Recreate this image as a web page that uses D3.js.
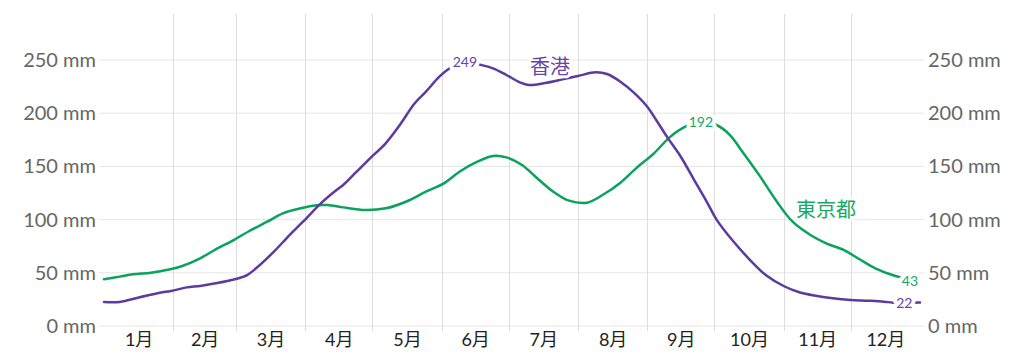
<!DOCTYPE html>
<html>
<head>
<meta charset="utf-8">
<script src="https://cdn.jsdelivr.net/npm/d3@7"></script>
<style>
  html, body { margin: 0; padding: 0; background: #fff; }
  svg { display: block; font-family: Lato, "Noto Sans", "Noto Sans CJK JP", sans-serif; }
</style>
</head>
<body>
<svg id="chart" width="1024" height="356"></svg>
<script>
// ---- data ----
const monthLabels = ["1月","2月","3月","4月","5月","6月","7月","8月","9月","10月","11月","12月"];
const monthStartDays = [0,31,59,90,120,151,181,212,243,273,304,334,365];
const yTicks = [0,50,100,150,200,250];

const hkName = "香港";
const hkDay  = [0,7,16,25,30,37,43,50,59,64,68,76,83,89,97,104,107,113,119,126,132,139,144,150,154,161,167,174,180,186,190,198,205,212,220,225,231,237,243,247,252,258,264,270,274,281,289,296,304,311,319,326,334,341,349,353,365];
const hkRain = [22.6,22.6,27,31.3,32.9,36.3,37.6,40.1,44.2,47.9,54.2,69.9,85.5,98,115.3,127.8,132.5,145,157.6,171.7,188,209.3,220.2,234.3,241.3,249,246.2,242.2,235.9,229,226.5,228.7,231.8,235,238.4,236.8,229.6,219.3,206.1,193.6,177.3,159.1,137.2,115.3,100,80.8,62,47.9,37.6,31.7,28.2,26,24.4,23.8,22.9,21.9,22];

const tkName = "東京都";
const tkDay  = [0,7,13,21,28,35,43,50,58,65,73,80,88,95,100,107,117,126,135,144,152,159,167,174,180,187,193,201,208,216,223,231,238,246,253,260,267,274,280,285,293,301,308,316,323,331,338,345,354,360,365];
const tkRain = [43.9,46.4,48.6,50.1,52.6,56.4,63.6,72.1,80.8,89.3,98,105.9,110.6,113.4,113.7,111.5,109,110.6,116.8,126.2,134.1,145,154.4,159.8,158.5,151.3,140.3,126.2,117.8,115.9,123.1,134.7,148.2,162.3,177.3,187.3,192,188.9,179.5,165.4,142,116.8,98,85.5,77.7,71.4,62.7,54.2,47,44,43];

// ---- layout ----
const svg = d3.select("#chart");
const purple = "#5e3a9e", purpleText = "#6a42a8";
const green = "#0aa35c", greenText = "#16a864";
const x = d3.scaleLinear().domain([0, 365]).range([104, 920]);
const y = d3.scaleLinear().domain([0, 250]).range([326, 60]);

// horizontal gridlines
svg.append("g").selectAll("line").data(yTicks).join("line")
  .attr("x1", 99).attr("x2", 924)
  .attr("y1", d => y(d)).attr("y2", d => y(d))
  .attr("stroke", "#e6e6e6").attr("stroke-width", 1);

// vertical gridlines (month boundaries)
svg.append("g").selectAll("line").data(monthStartDays.slice(1, 12)).join("line")
  .attr("x1", d => Math.round(x(d)) + 0.5).attr("x2", d => Math.round(x(d)) + 0.5)
  .attr("y1", 14).attr("y2", 331)
  .attr("stroke", "#dddddd").attr("stroke-width", 1);

// y axes
const fmt = d => d + " mm";
const left = svg.append("g").attr("transform", "translate(96,0)")
  .call(d3.axisLeft(y).tickValues(yTicks).tickFormat(fmt).tickSize(0).tickPadding(0));
const right = svg.append("g").attr("transform", "translate(928,0)")
  .call(d3.axisRight(y).tickValues(yTicks).tickFormat(fmt).tickSize(0).tickPadding(0));
[left, right].forEach(g => {
  g.select(".domain").remove();
  g.selectAll("text").attr("font-size", 20).attr("fill", "#666").attr("font-family", "Lato, 'Noto Sans', sans-serif");
});

// x axis month labels (mid-month)
const mids = monthLabels.map((m, i) => (monthStartDays[i] + monthStartDays[i + 1]) / 2);
const xa = svg.append("g").attr("transform", "translate(0,333)")
  .call(d3.axisBottom(x).tickValues(mids).tickFormat((d, i) => monthLabels[i]).tickSize(0).tickPadding(0));
xa.select(".domain").remove();
xa.selectAll("text").attr("font-size", 18).attr("fill", "#222").attr("dy", "0.71em")
  .attr("font-family", "Lato, 'Noto Sans CJK JP', sans-serif");

// lines
const line = d3.line().curve(d3.curveCatmullRom.alpha(0.5));
function series(days, vals, color) {
  svg.append("path")
    .attr("d", line(days.map((d, i) => [x(d), y(vals[i])])))
    .attr("fill", "none").attr("stroke", color).attr("stroke-width", 2.5)
    .attr("stroke-linejoin", "round").attr("stroke-linecap", "round");
}
series(tkDay, tkRain, green);
series(hkDay, hkRain, purple);

// labels with white halo
function label(px, py, text, color, size, halo) {
  svg.append("text").attr("x", px).attr("y", py)
    .attr("text-anchor", "middle").attr("dominant-baseline", "central")
    .attr("font-size", size).attr("fill", color)
    .attr("stroke", "#fff").attr("stroke-width", halo).attr("stroke-linejoin", "round")
    .attr("paint-order", "stroke")
    .attr("font-family", "Lato, 'Noto Sans CJK JP', sans-serif")
    .text(text);
}
const hkMaxI = hkRain.indexOf(d3.max(hkRain));
const tkMaxI = tkRain.indexOf(d3.max(tkRain));
label(x(hkDay[hkMaxI]) + 1, y(hkRain[hkMaxI]), Math.round(hkRain[hkMaxI]), purpleText, 14, 8);
label(x(tkDay[tkMaxI]), y(tkRain[tkMaxI]), Math.round(tkRain[tkMaxI]), greenText, 14, 8);
label(x(358), y(hkRain[hkRain.length - 1]), Math.round(hkRain[hkRain.length - 1]), purpleText, 14, 8);
label(x(360.5), y(tkRain[tkRain.length - 1]), Math.round(tkRain[tkRain.length - 1]), greenText, 14, 9);
label(x(199.5), y(244), hkName, purpleText, 20, 6);
label(x(323), y(110), tkName, greenText, 20, 6);
</script>
</body>
</html>
